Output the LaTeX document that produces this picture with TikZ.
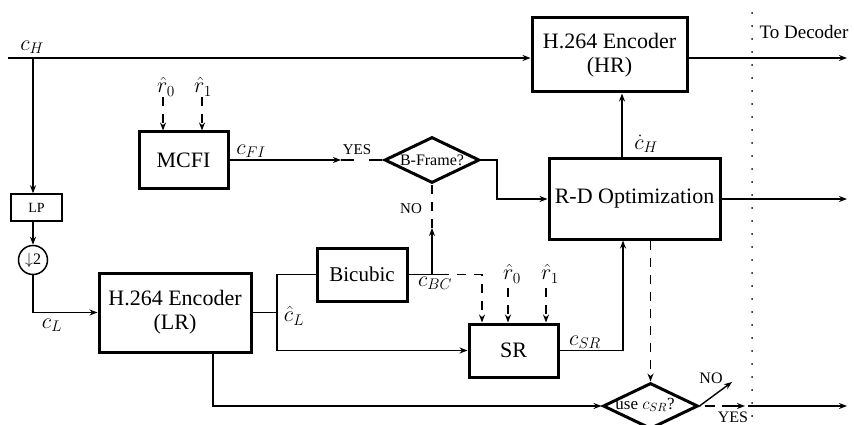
\RequirePackage{fix-cm}
\documentclass[tikz,border=0pt]{standalone}
\usepackage{fontspec}
\setmainfont{Liberation Serif}
\usetikzlibrary{shapes.geometric,arrows.meta,calc}

\tikzset{
 blk/.style={draw, line width=3pt, inner sep=0pt, align=center, font=\fontsize{22}{24}\selectfont},
 conn/.style={line width=1.4pt},
 arr/.style={conn, -{Stealth[length=8pt,width=6pt]}},
 dsh/.style={dash pattern=on 9pt off 8pt},
 lbl/.style={inner sep=0pt, font=\fontsize{22}{24}\selectfont},
 smalltxt/.style={inner sep=0pt, font=\fontsize{15}{17}\selectfont},
 dia/.style={diamond, draw, line width=3pt, inner sep=0pt, minimum width=95pt, minimum height=46pt},
}

\begin{document}
\begin{tikzpicture}[x=1pt,y=-1pt]
\useasboundingbox (0,0) rectangle (854,425);

% blocks
\node[blk, minimum width=155pt, minimum height=74pt] (HR) at (609.5,55) {H.264 Encoder\\(HR)};
\node[blk, minimum width=89pt, minimum height=56pt] (MCFI) at (183.5,160) {MCFI};
\node[draw, line width=1.5pt, inner sep=0pt, minimum width=51pt, minimum height=27pt, font=\fontsize{14}{16}\selectfont] (LP) at (36.5,207.5) {LP};
\node[circle, draw, line width=1.5pt, minimum size=29pt, inner sep=0pt, font=\fontsize{16}{18}\selectfont] (ds) at (33,260) {$\downarrow$2};
\node[blk, minimum width=152pt, minimum height=79pt] (LR) at (175,312.5) {H.264 Encoder\\(LR)};
\node[blk, minimum width=90pt, minimum height=53pt, font=\fontsize{21}{23}\selectfont] (Bic) at (362,274.5) {Bicubic};
\node[blk, minimum width=89pt, minimum height=53pt] (SR) at (513.5,350.5) {SR};
\node[blk, minimum width=171pt, minimum height=80pt] (RD) at (634.5,199) {R-D Optimization};
\node[dia] (bf) at (432,160) {};
\node[smalltxt, font=\fontsize{16}{18}\selectfont] (bft) at (432,160) {B-Frame?};
\node[dia] (us) at (650.5,406) {};
\node[smalltxt, font=\fontsize{17}{19}\selectfont] (ust) at (645,405) {use $c_{SR}$?};

% labels
\node[lbl] (lcH) at (32,47) {$c_H$};
\node[lbl] (lr0a) at (166,87) {$\hat{r}_0$};
\node[lbl] (lr1a) at (203,87) {$\hat{r}_1$};
\node[lbl] (lcFI) at (251,151) {$c_{FI}$};
\node[smalltxt] (lyes1) at (357,150) {YES};
\node[smalltxt] (lno1) at (411,209) {NO};
\node[lbl] (lcL) at (52,325) {$c_L$};
\node[lbl] (lchL) at (294,316) {$\hat{c}_L$};
\node[lbl] (lcBC) at (435,283) {$c_{BC}$};
\node[lbl] (lr0b) at (512,274) {$\hat{r}_0$};
\node[lbl] (lr1b) at (550,274) {$\hat{r}_1$};
\node[lbl] (lcSR) at (585,342) {$c_{SR}$};
\node[lbl] (ldcH) at (646,144) {$\dot{c}_H$};
\node[smalltxt, font=\fontsize{19}{21}\selectfont] (ltd) at (804,32) {To Decoder};
\node[smalltxt, font=\fontsize{16}{18}\selectfont] (lno2) at (711,378) {NO};
\node[smalltxt, font=\fontsize{16}{18}\selectfont] (lyes2) at (733,417) {YES};

% coordinates
\coordinate (cHs) at (8,58);
\coordinate (cHd) at (33,58);
\coordinate (jL) at (277,312.5);
\coordinate (jB) at (432,274.5);
\coordinate (bcE) at (440,274.5);
\coordinate (bcD) at (482,274.5);
\coordinate (noT) at (432,228);
\coordinate (yesT) at (341,160);
\coordinate (m0) at (163,97);
\coordinate (m1) at (202,97);
\coordinate (s0) at (508,288);
\coordinate (s1) at (546,288);
\coordinate (srx) at (623,0);
\coordinate (chx) at (622,0);
\coordinate (out1) at (847,58);
\coordinate (out2) at (847,199);
\coordinate (lrb) at (213,0);
\coordinate (noE) at (732,382);
\coordinate (yesE) at (745,406);
\coordinate (yesS) at (748,406);
\coordinate (out3) at (847,406);
\coordinate (dotT) at (752,13);
\coordinate (dotB) at (752,428);

% connectors
\draw[arr] (cHs) -- (cHs -| HR.west);
\draw[arr] (cHd) -- (cHd |- LP.north);
\draw[arr] (LP.south -| ds) -- (ds.north);
\draw[arr] (ds.south) |- (LR.west);
\draw[conn] (LR.east) -- (jL);
\draw[arr] (Bic.west) -| (jL) |- (SR.west);
\draw[conn] (Bic.east) -- (bcE);
\draw[arr, dsh] (bcE) -- (bcD) -- (bcD |- SR.north);
\draw[arr] (jB) -- (noT);
\draw[conn, dsh] (noT) -- (bf.south);
\draw[arr] (MCFI.east) -- (yesT);
\draw[conn, dash pattern=on 13pt off 15pt] (yesT) -- (bf.west);
\draw[arr] (bf.east) -- ++(16,0) |- (RD.west);
\draw[arr, dsh] (m0) -- (m0 |- MCFI.north);
\draw[arr, dsh] (m1) -- (m1 |- MCFI.north);
\draw[arr, dsh] (s0) -- (s0 |- SR.north);
\draw[arr, dsh] (s1) -- (s1 |- SR.north);
\draw[arr] (SR.east) -| (srx |- RD.south);
\draw[arr] (chx |- RD.north) -- (chx |- HR.south);
\draw[arr, dsh] (RD.south -| us.north) -- (us.north);
\draw[arr] (HR.east |- out1) -- (out1);
\draw[arr] (RD.east) -- (out2);
\draw[arr] (lrb |- LR.south) |- (us.west);
\draw[arr] (us.east) -- (noE);
\draw[arr, dash pattern=on 0pt off 5pt on 10pt off 7pt on 40pt off 1pt] (us.east) -- (yesE);
\draw[arr] (yesS) -- (out3);
\draw[line width=2pt, dash pattern=on 0pt off 13pt, line cap=round] (dotT) -- (dotB);
\end{tikzpicture}
\end{document}
